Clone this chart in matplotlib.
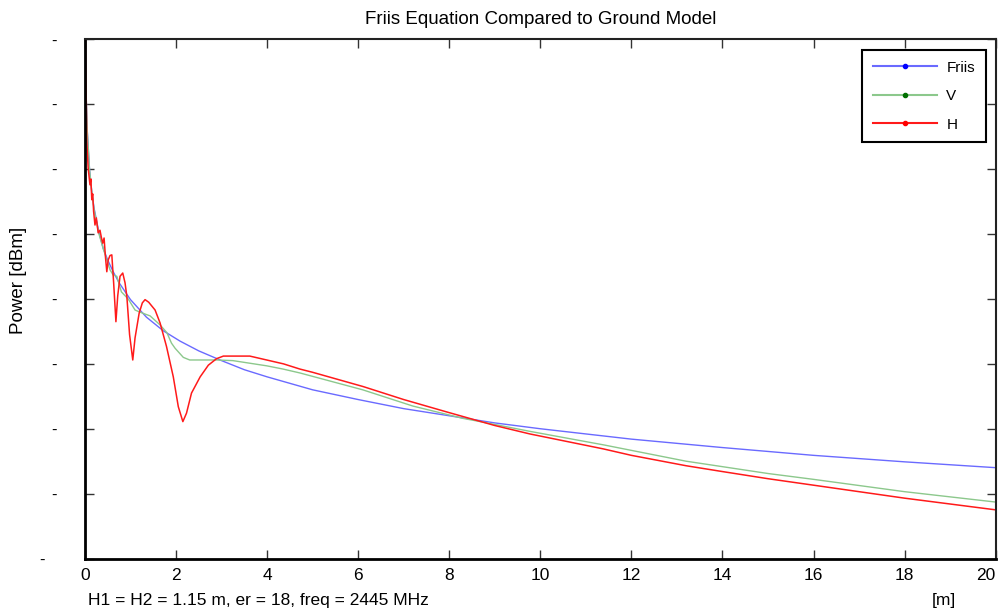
import matplotlib.pyplot as plt
from matplotlib.lines import Line2D

plt.rcParams['font.family'] = ['Liberation Sans', 'DejaVu Sans']

# Distance [m] and received power [dBm]
friis_x = [0.005, 0.01, 0.02, 0.03, 0.05, 0.1, 0.15, 0.2, 0.3, 0.4, 0.5, 0.62, 0.75, 1.0, 1.35,
           1.72, 2.09, 2.5, 3.0, 3.5, 4.0, 5.0, 6.0, 7.0, 8.0, 9.0, 10.0, 12.0, 14.0, 15.0,
           16.0, 18.0, 20.0]
friis_y = [-14.0, -20.0, -26.0, -29.5, -34.0, -40.0, -43.5, -46.0, -49.5, -52.2, -54.0, -55.8,
           -57.5, -60.1, -62.8, -64.9, -66.5, -68.0, -69.5, -70.9, -72.0, -74.0, -75.5, -76.9,
           -78.0, -79.1, -80.0, -81.6, -82.9, -83.5, -84.1, -85.1, -86.0]

v_x = [0.005, 0.01, 0.02, 0.03, 0.05, 0.1, 0.15, 0.2, 0.3, 0.4, 0.55, 0.62, 0.7, 0.8, 0.95,
       1.1, 1.2, 1.35, 1.43, 1.65, 1.8, 1.9, 1.98, 2.16, 2.3, 2.9, 3.25, 3.62, 3.99, 4.35,
       4.72, 6.1, 7.2, 8.3, 8.68, 9.77, 11.4, 13.2, 15.0, 16.0, 18.0, 20.0]
v_y = [-14.0, -20.0, -26.0, -29.5, -34.0, -40.0, -43.5, -46.2, -49.8, -52.2, -55.5, -56.3,
       -56.5, -58.9, -60.0, -61.7, -62.0, -62.4, -62.6, -64.0, -65.2, -66.8, -67.6, -69.0,
       -69.4, -69.4, -69.5, -69.9, -70.3, -70.8, -71.4, -74.0, -76.5, -78.4, -78.9, -80.4,
       -82.5, -85.0, -86.9, -87.8, -89.7, -91.3]

h_x = [0.005, 0.01, 0.02, 0.03, 0.04, 0.07, 0.11, 0.13, 0.15, 0.17, 0.19, 0.22, 0.25, 0.29,
       0.33, 0.36, 0.39, 0.42, 0.45, 0.48, 0.51, 0.55, 0.59, 0.63, 0.68, 0.72, 0.77, 0.83,
       0.88, 0.92, 0.98, 1.05, 1.1, 1.19, 1.26, 1.32, 1.4, 1.54, 1.65, 1.79, 1.94, 2.05,
       2.15, 2.23, 2.34, 2.53, 2.71, 2.89, 3.04, 3.62, 3.99, 4.36, 4.72, 5.0, 6.11, 7.0,
       7.94, 9.0, 9.77, 11.38, 12.0, 13.2, 14.0, 15.0, 16.0, 18.0, 20.0]
h_y = [-14.0, -20.0, -26.0, -30.0, -35.7, -39.8, -42.4, -41.5, -44.7, -43.8, -46.5, -48.6,
       -47.5, -49.8, -49.4, -50.5, -51.4, -50.6, -53.5, -55.8, -54.0, -53.3, -53.2, -57.5,
       -63.5, -59.5, -56.5, -56.0, -57.5, -59.6, -65.5, -69.4, -66.0, -62.2, -60.6, -60.1,
       -60.5, -61.7, -63.7, -67.3, -72.0, -76.6, -78.9, -77.6, -74.5, -72.0, -70.2, -69.2,
       -68.8, -68.8, -69.4, -70.0, -70.8, -71.3, -73.5, -75.5, -77.4, -79.5, -80.8, -83.1,
       -84.1, -85.7, -86.6, -87.7, -88.7, -90.7, -92.5]

x_ticks = list(range(0, 21, 2))
y_ticks = list(range(-100, -19, 10))

# Plot the three models
fig = plt.figure(figsize=(10.03, 6.13), dpi=100)
ax = fig.add_axes([0.0847, 0.0889, 0.908, 0.8467])

ax.plot(friis_x, friis_y, color='#6a6aff', linewidth=1.0)
ax.plot(v_x, v_y, color='#8cc88c', linewidth=1.0)
ax.plot(h_x, h_y, color='#ff1a1a', linewidth=1.1)

ax.set_xlim(0, 20)
ax.set_ylim(-100, -20)
ax.set_xticks(x_ticks)
ax.set_xticklabels([str(t) for t in x_ticks], fontsize=12.5)
# last x label is pulled inside so it is not clipped at the figure edge
ax.get_xticklabels()[-1].set_horizontalalignment('right')
ax.set_yticks(y_ticks)
ax.set_yticklabels(['-'] * len(y_ticks), fontsize=12)
ax.tick_params(direction='in', length=6.5, width=1.0, color='#333333',
               top=True, right=True, pad=6.5)

# y labels only show the minus sign, the bottom one sits further left
for i, tick in enumerate(ax.yaxis.get_major_ticks()):
    tick.set_pad(29 if i == 0 else 20)

for side in ['left', 'bottom']:
    ax.spines[side].set_linewidth(2.0)
    ax.spines[side].set_color('black')
for side in ['top', 'right']:
    ax.spines[side].set_linewidth(1.5)
    ax.spines[side].set_color('#222222')

ax.set_title('Friis Equation Compared to Ground Model', fontsize=13.5, pad=11)
ax.set_ylabel('Power [dBm]', fontsize=13.5)
ax.yaxis.set_label_coords(-0.064, 0.535)
fig.text(0.0877, 0.0212, 'H1 = H2 = 1.15 m, er = 18, freq = 2445 MHz', fontsize=12.5,
         ha='left', va='center')
fig.text(0.941, 0.0212, '[m]', fontsize=12.5, ha='center', va='center')

# Legend with a dot in the middle of each line
handles = [
    Line2D([], [], color='#6a6aff', marker='.', markersize=6,
           markerfacecolor='#0000ff', markeredgecolor='#0000ff'),
    Line2D([], [], color='#8cc88c', marker='.', markersize=6,
           markerfacecolor='#007000', markeredgecolor='#007000'),
    Line2D([], [], color='#ff1a1a', marker='.', markersize=6,
           markerfacecolor='#ff0000', markeredgecolor='#ff0000'),
]
leg = ax.legend(handles, ['Friis', 'V', 'H'], loc='upper right',
                bbox_to_anchor=(1 - 10 / 911, 1 - 10.5 / 519), borderaxespad=0,
                fontsize=11, handlelength=4.2, labelspacing=0.95, numpoints=1,
                handletextpad=0.6, fancybox=False, framealpha=1, edgecolor='black',
                borderpad=0.7)
leg.get_frame().set_linewidth(1.5)

plt.savefig('out.png', dpi=100)
